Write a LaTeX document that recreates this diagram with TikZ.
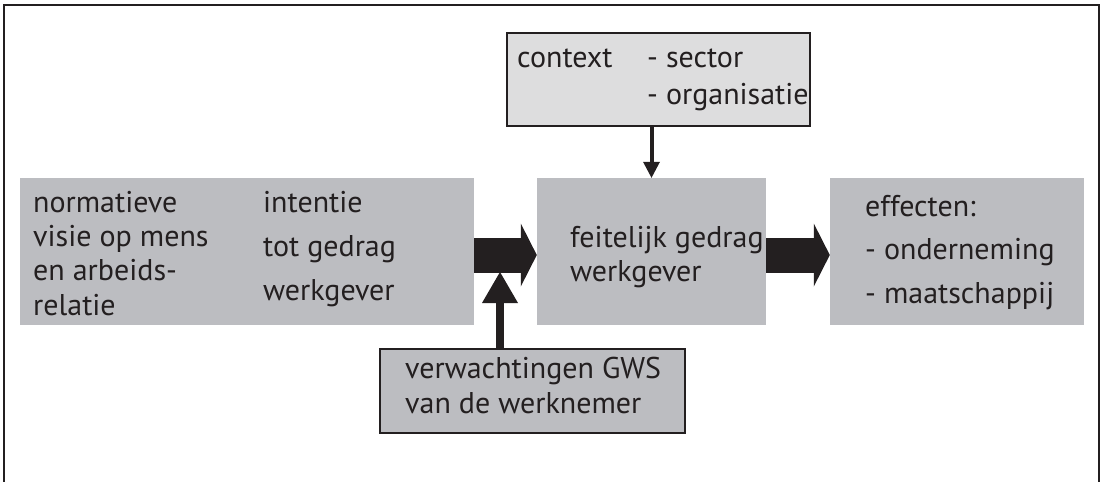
\documentclass[tikz,border=0pt]{standalone}
\usepackage{fontspec}
\setmainfont{PT Sans}
\usetikzlibrary{arrows.meta,positioning}
\definecolor{boxgray}{RGB}{188,189,193}
\definecolor{ctxgray}{RGB}{221,221,222}
\definecolor{ink}{RGB}{35,31,32}

\begin{document}
\begin{tikzpicture}[x=1pt,y=-1pt,
  graybox/.style={fill=boxgray, inner sep=0pt},
  txt/.style={text=ink, inner sep=0pt, anchor=base west, align=left},
  blockarrow/.style={draw=ink, line width=35pt,
    -{Triangle[length=16pt,width=63pt,line width=0pt]}},
  thinarrow/.style={draw=ink, line width=4pt,
    -{Triangle[length=16pt,width=17pt,line width=0pt]}}]
\def \fs {30}

\useasboundingbox (0,0) rectangle (1101,482);
\draw[ink, line width=2pt] (4,482) -- (4,5) -- (1099,5) -- (1099,482);

% boxes
\node[graybox, minimum width=454pt, minimum height=147pt] (visie) at (247,251.5) {};
\node[graybox, minimum width=229pt, minimum height=147pt] (gedrag) at (651.5,251.5) {};
\node[graybox, minimum width=254pt, minimum height=147pt] (effect) at (957,251.5) {};
\node[graybox, fill=ctxgray, draw=ink, line width=2pt,
  minimum width=303pt, minimum height=93pt] (context) at (658.5,79.5) {};
\node[graybox, draw=ink, line width=2pt,
  minimum width=305pt, minimum height=84pt] (verw) at (532.5,391) {};

% texts (base = last line)
\node[txt, font=\fontsize{\fs}{34.3}\selectfont] (visietxt) at (33,315)
  {normatieve\\visie op mens\\en arbeids-\\relatie};
\node[txt, font=\fontsize{\fs}{44}\selectfont] (intentie) at (263,300)
  {intentie\\tot gedrag\\werkgever};
\node[txt, font=\fontsize{\fs}{34}\selectfont] (gedragtxt) at (570,281)
  {feitelijk gedrag\\werkgever};
\node[txt, font=\fontsize{\fs}{43.5}\selectfont] (effecttxt) at (865,303)
  {effecten:\\- onderneming\\- maatschappij};
\node[txt, font=\fontsize{\fs}{37}\selectfont] (ctxlabel) at (517,67) {context};
\node[txt, font=\fontsize{\fs}{37}\selectfont] (ctxitems) at (647,104)
  {- sector\\- organisatie};
\node[txt, font=\fontsize{\fs}{35}\selectfont] (verwtxt) at (405,413)
  {verwachtingen GWS\\van de werknemer};

% arrows
\coordinate (meet) at (500,272);
\draw[blockarrow] ([yshift=-3.5pt]visie.east) -- ([yshift=-3.5pt]gedrag.west);
\draw[blockarrow] ([yshift=-3.5pt]gedrag.east) -- ([yshift=-3.5pt]effect.west);
\draw[thinarrow] (context.south -| gedrag.north) -- (gedrag.north);
\draw[draw=ink, line width=8pt, -{Triangle[length=31pt,width=36pt,line width=0pt]}]
  (verw.north -| meet) -- (meet);
\end{tikzpicture}
\end{document}
